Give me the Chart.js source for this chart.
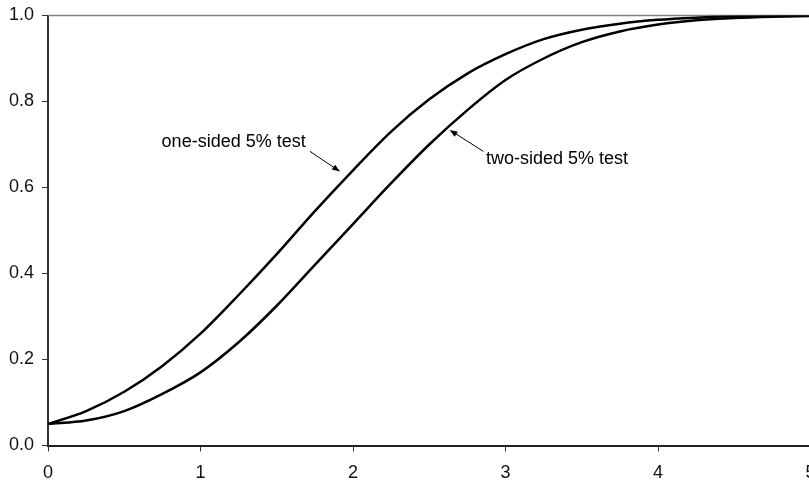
<!DOCTYPE html>
<html>
<head>
<meta charset="utf-8">
<script src="https://cdn.jsdelivr.net/npm/chart.js@4/dist/chart.umd.min.js"></script>
<style>
  html, body { margin: 0; padding: 0; background: #fff; overflow: hidden; }
  #wrap { width: 840px; height: 483px; }
</style>
</head>
<body>
<div id="wrap"><canvas id="chart" width="840" height="483"></canvas></div>
<script>
// effect size (in standard errors) against power
const effect = [0, 0.25, 0.5, 0.75, 1, 1.25, 1.5, 1.75, 2, 2.25, 2.5, 2.75, 3, 3.25, 3.5, 3.75, 4, 4.25, 4.5, 4.75, 5];
const one_sided = [0.05, 0.08, 0.125, 0.185, 0.26, 0.35, 0.445, 0.545, 0.64, 0.73, 0.805, 0.865, 0.91, 0.945, 0.967, 0.981, 0.99, 0.995, 0.998, 0.999, 1.0];
const two_sided = [0.05, 0.058, 0.08, 0.12, 0.17, 0.24, 0.325, 0.42, 0.515, 0.61, 0.70, 0.78, 0.85, 0.90, 0.938, 0.963, 0.979, 0.989, 0.994, 0.997, 0.999];

const x_ticks = [0, 1, 2, 3, 4, 5];
const y_ticks = [0, 0.2, 0.4, 0.6, 0.8, 1.0];

// callout text and arrow (tail -> head), in axis units
const notes = [
  { text: 'one-sided 5% test', at: [0.745, 0.705], tail: [1.718, 0.684], head: [1.915, 0.637] },
  { text: 'two-sided 5% test', at: [2.872, 0.666], tail: [2.855, 0.684], head: [2.633, 0.734] },
];

const FONT = 'Liberation Sans, Arial, sans-serif';

const to_points = (ys) => ys.map((y, i) => ({ x: effect[i], y: y }));

const callouts = {
  id: 'callouts',
  afterDatasetsDraw(chart) {
    const { ctx, scales: { x, y } } = chart;
    ctx.save();
    ctx.font = `18px ${FONT}`;
    ctx.fillStyle = '#000';
    ctx.textBaseline = 'middle';
    ctx.textAlign = 'left';
    for (const n of notes) {
      ctx.fillText(n.text, x.getPixelForValue(n.at[0]), y.getPixelForValue(n.at[1]));

      const x0 = x.getPixelForValue(n.tail[0]), y0 = y.getPixelForValue(n.tail[1]);
      const x1 = x.getPixelForValue(n.head[0]), y1 = y.getPixelForValue(n.head[1]);
      const a = Math.atan2(y1 - y0, x1 - x0);
      const len = 8, half = 3;

      ctx.strokeStyle = '#000';
      ctx.lineWidth = 1;
      ctx.beginPath();
      ctx.moveTo(x0, y0);
      ctx.lineTo(x1 - Math.cos(a) * len * 0.8, y1 - Math.sin(a) * len * 0.8);
      ctx.stroke();

      ctx.beginPath();
      ctx.moveTo(x1, y1);
      ctx.lineTo(x1 - Math.cos(a) * len + Math.sin(a) * half, y1 - Math.sin(a) * len - Math.cos(a) * half);
      ctx.lineTo(x1 - Math.cos(a) * len - Math.sin(a) * half, y1 - Math.sin(a) * len + Math.cos(a) * half);
      ctx.closePath();
      ctx.fill();
    }
    ctx.restore();
  }
};

// plot area border along the top
const top_border = {
  id: 'top_border',
  beforeDatasetsDraw(chart) {
    const { ctx, chartArea: a } = chart;
    ctx.save();
    ctx.strokeStyle = '#808080';
    ctx.lineWidth = 1.5;
    ctx.beginPath();
    ctx.moveTo(a.left, a.top);
    ctx.lineTo(a.right + 2, a.top);
    ctx.stroke();
    ctx.restore();
  }
};

const ctx = document.getElementById('chart').getContext('2d');
const chart = new Chart(ctx, {
  type: 'line',
  data: {
    datasets: [
      { label: 'one-sided 5% test', data: to_points(one_sided) },
      { label: 'two-sided 5% test', data: to_points(two_sided) },
    ]
  },
  options: {
    responsive: false,
    animation: false,
    layout: { padding: { left: 0, top: 15.5, right: 29.5, bottom: 0 } },
    elements: {
      line: { borderColor: '#000', borderWidth: 2.5, cubicInterpolationMode: 'monotone', fill: false },
      point: { radius: 0 }
    },
    plugins: {
      legend: { display: false },
      tooltip: { enabled: false }
    },
    scales: {
      x: {
        type: 'linear',
        min: 0,
        max: 5,
        afterFit: (s) => { s.height = 37.5; },
        afterBuildTicks: (s) => { s.ticks = x_ticks.map(v => ({ value: v })); },
        border: { color: '#222', width: 2 },
        grid: { drawOnChartArea: false, tickLength: 6, tickColor: '#333', tickWidth: 1 },
        ticks: { color: '#111', font: { family: FONT, size: 18 }, padding: 11, maxRotation: 0,
                 callback: (v) => String(v) }
      },
      y: {
        min: 0,
        max: 1,
        afterFit: (s) => { s.width = 48; },
        afterBuildTicks: (s) => { s.ticks = y_ticks.map(v => ({ value: v })); },
        border: { color: '#333', width: 2 },
        grid: { drawOnChartArea: false, tickLength: 6, tickColor: '#333', tickWidth: 1 },
        ticks: { color: '#111', font: { family: FONT, size: 18, lineHeight: 0.6 }, padding: 8,
                 callback: (v) => v.toFixed(1) }
      }
    }
  },
  plugins: [top_border, callouts]
});
</script>
</body>
</html>
